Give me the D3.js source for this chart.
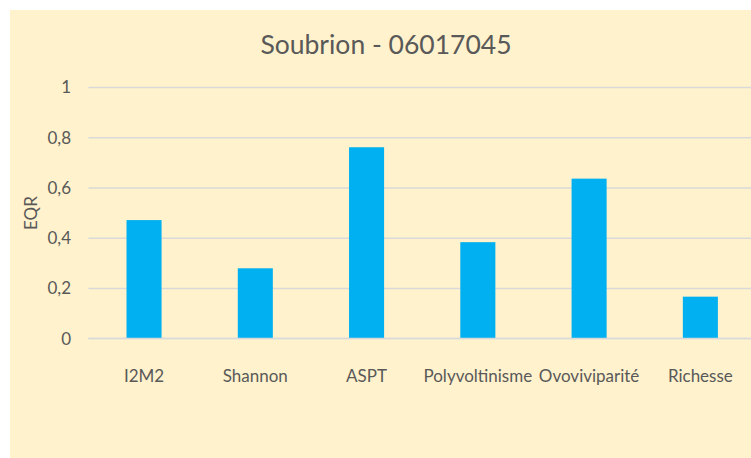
<!DOCTYPE html>
<html>
<head>
<meta charset="utf-8">
<script src="https://cdn.jsdelivr.net/npm/d3@7"></script>
<style>
  body { margin: 0; background: #fff; }
  svg { display: block; font-family: Lato, "Open Sans", sans-serif; }
</style>
</head>
<body>
<svg id="chart"></svg>
<script>
const categories = ['I2M2', 'Shannon', 'ASPT', 'Polyvoltinisme', 'Ovoviviparité', 'Richesse'];
const values = [0.472, 0.280, 0.762, 0.384, 0.637, 0.167];
const yTicks = [0, 0.2, 0.4, 0.6, 0.8, 1];
const title = 'Soubrion - 06017045';
const yTitle = 'EQR';

const width = 751;
const height = 458;
const margin = { top: 87.5, right: -5, bottom: 119.4, left: 88.4 };

const svg = d3.select('#chart')
  .attr('width', width)
  .attr('height', height);

// panel background
svg.append('rect')
  .attr('x', 10)
  .attr('y', 10)
  .attr('width', width - 10)
  .attr('height', height - 10)
  .attr('fill', '#FFF2CC');

const x = d3.scaleBand()
  .domain(categories)
  .range([margin.left, width - margin.right])
  .paddingInner(0.685)
  .paddingOuter(0.3425);

const y = d3.scaleLinear()
  .domain([0, 1])
  .range([height - margin.bottom, margin.top]);

// gridlines
svg.append('g')
  .selectAll('line')
  .data(yTicks)
  .enter()
  .append('line')
  .attr('x1', margin.left)
  .attr('x2', width)
  .attr('y1', d => y(d))
  .attr('y2', d => y(d))
  .attr('stroke', '#D9D9D9')
  .attr('stroke-width', 1.5);

// y tick labels
const fmt = d => String(d).replace('.', ',');
svg.append('g')
  .selectAll('text')
  .data(yTicks)
  .enter()
  .append('text')
  .attr('x', 71)
  .attr('y', d => y(d))
  .attr('dy', '0.35em')
  .attr('text-anchor', 'end')
  .attr('fill', '#595959')
  .attr('font-size', 17)
  .text(fmt);

// bars
svg.append('g')
  .selectAll('rect')
  .data(values)
  .enter()
  .append('rect')
  .attr('x', (d, i) => x(categories[i]))
  .attr('y', d => y(d))
  .attr('width', x.bandwidth())
  .attr('height', d => y(0) - y(d))
  .attr('fill', '#00B0F0');

// baseline redrawn over bars
svg.append('line')
  .attr('x1', margin.left)
  .attr('x2', width)
  .attr('y1', y(0))
  .attr('y2', y(0))
  .attr('stroke', '#D9D9D9')
  .attr('stroke-width', 1.5);

// category labels
svg.append('g')
  .selectAll('text')
  .data(categories)
  .enter()
  .append('text')
  .attr('x', d => x(d) + x.bandwidth() / 2)
  .attr('y', 376)
  .attr('dy', '0.35em')
  .attr('text-anchor', 'middle')
  .attr('fill', '#595959')
  .attr('font-size', 17)
  .text(d => d);

// axis title
svg.append('text')
  .attr('transform', `translate(31,${y(0.5)}) rotate(-90)`)
  .attr('dy', '0.35em')
  .attr('text-anchor', 'middle')
  .attr('fill', '#595959')
  .attr('font-size', 17)
  .text(yTitle);

// chart title
svg.append('text')
  .attr('x', 386)
  .attr('y', 45)
  .attr('dy', '0.35em')
  .attr('text-anchor', 'middle')
  .attr('fill', '#595959')
  .attr('font-size', 26.5)
  .text(title);
</script>
</body>
</html>
